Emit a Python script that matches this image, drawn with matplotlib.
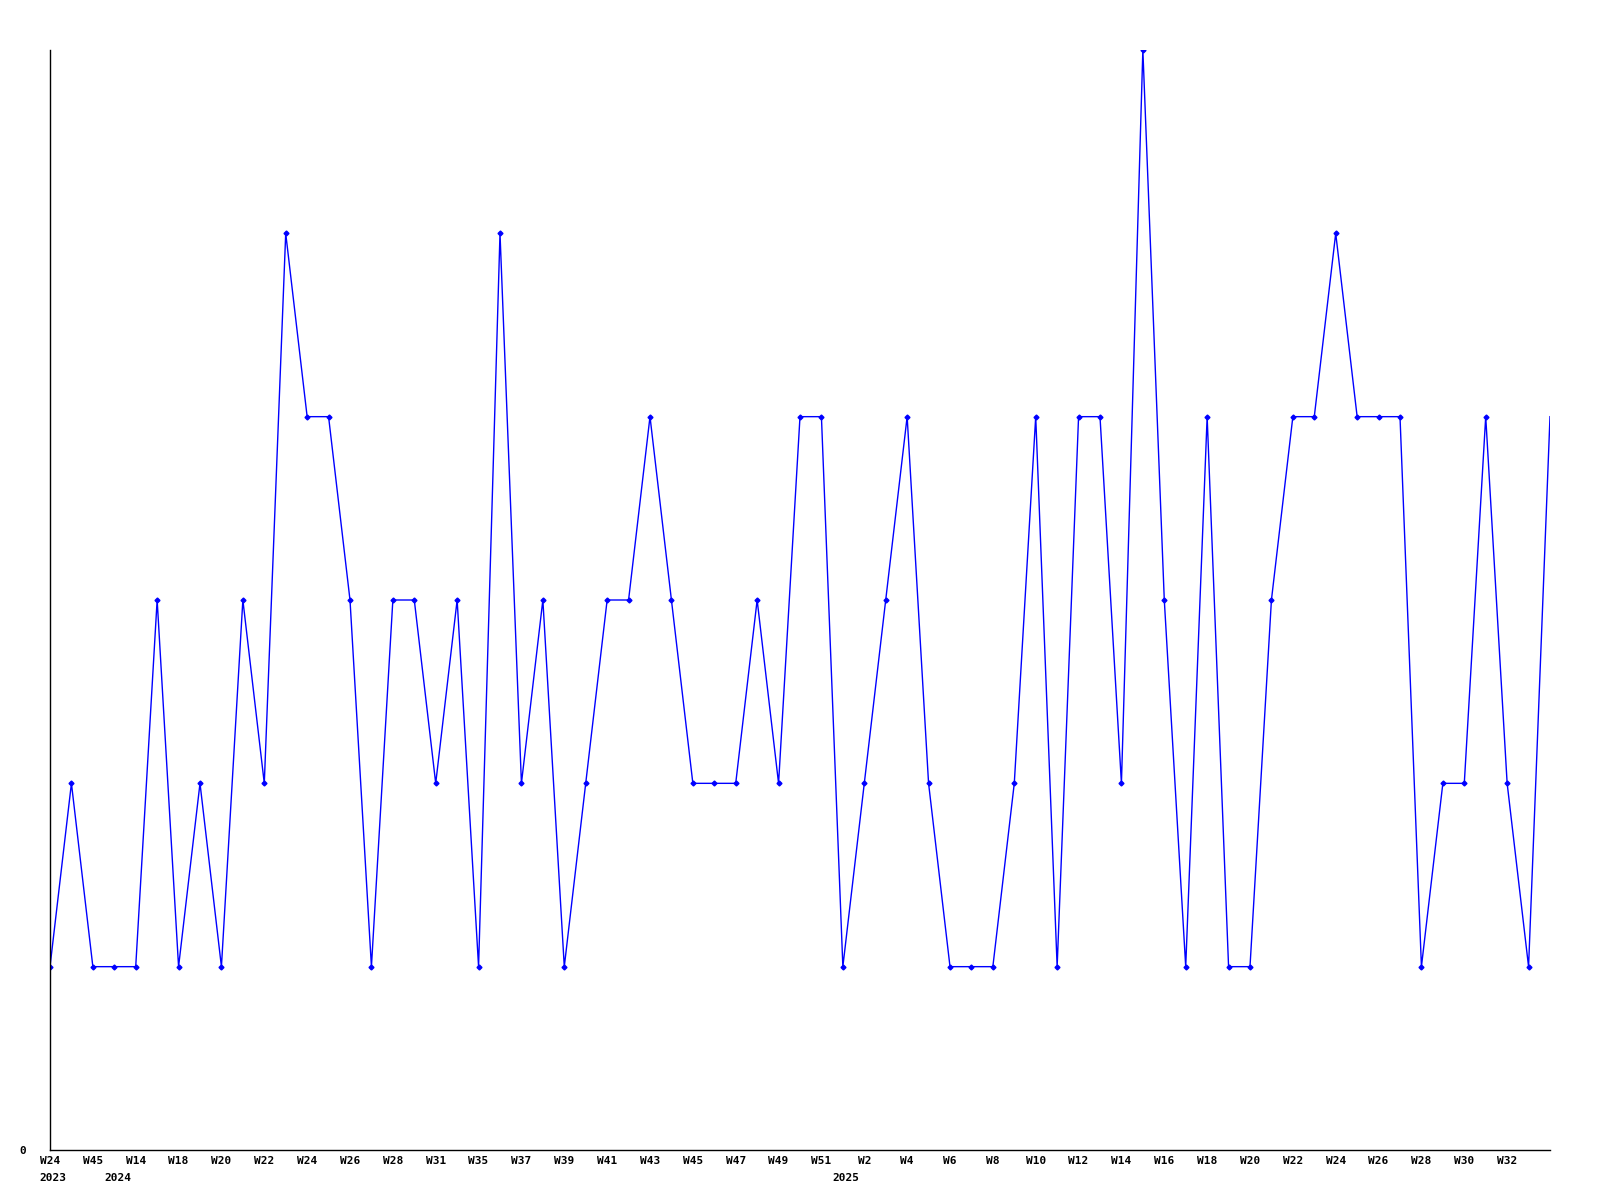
import matplotlib
matplotlib.use("Agg")
import matplotlib.pyplot as plt
import matplotlib.transforms as mtransforms

values = [1, 2, 1, 1, 1, 3, 1, 2, 1, 3, 2, 5, 4, 4, 3, 1, 3, 3, 2, 3,
          1, 5, 2, 3, 1, 2, 3, 3, 4, 3, 2, 2, 2, 3, 2, 4, 4, 1, 2, 3,
          4, 2, 1, 1, 1, 2, 4, 1, 4, 4, 2, 6, 3, 1, 4, 1, 1, 3, 4, 4,
          5, 4, 4, 4, 1, 2, 2, 4, 2, 1, 4]

tick_labels = ["W24", "W45", "W14", "W18", "W20", "W22", "W24", "W26", "W28",
               "W31", "W35", "W37", "W39", "W41", "W43", "W45", "W47", "W49",
               "W51", "W2", "W4", "W6", "W8", "W10", "W12", "W14", "W16",
               "W18", "W20", "W22", "W24", "W26", "W28", "W30", "W32"]

year_labels = ["2023", "2024", "2025"]
year_positions = [0, 3, 37]

x = list(range(len(values)))
tick_pos = list(range(0, 2 * len(tick_labels), 2))

fig = plt.figure(figsize=(16, 12), dpi=100)
ax = fig.add_axes([50 / 1600, 50 / 1200, 1500 / 1600, 1100 / 1200])

ax.plot(x, values, color="#0000ff", lw=1.0, marker="D", markersize=2.5,
        markevery=list(range(len(values) - 1)))

ax.set_xlim(0, len(values) - 1)
ax.set_ylim(0, 6)

for s in ["top", "right"]:
    ax.spines[s].set_visible(False)
for s in ["left", "bottom"]:
    ax.spines[s].set_linewidth(1.0)
    ax.spines[s].set_color("black")

font = dict(family="DejaVu Sans Mono", weight="bold", size=8)

ax.set_xticks(tick_pos)
ax.set_xticklabels(tick_labels, **font)
ax.set_yticks([0])
ax.set_yticklabels(["0"], **font)
ax.tick_params(axis="x", length=0, pad=4)
ax.tick_params(axis="y", length=0, pad=17)

trans = mtransforms.blended_transform_factory(ax.transData, ax.transAxes)
for lab, pos in zip(year_labels, year_positions):
    ax.text(pos + 0.15, -0.0205, lab, transform=trans, ha="center", va="top",
            **font)

fig.savefig("out.png", dpi=100, facecolor="white")
